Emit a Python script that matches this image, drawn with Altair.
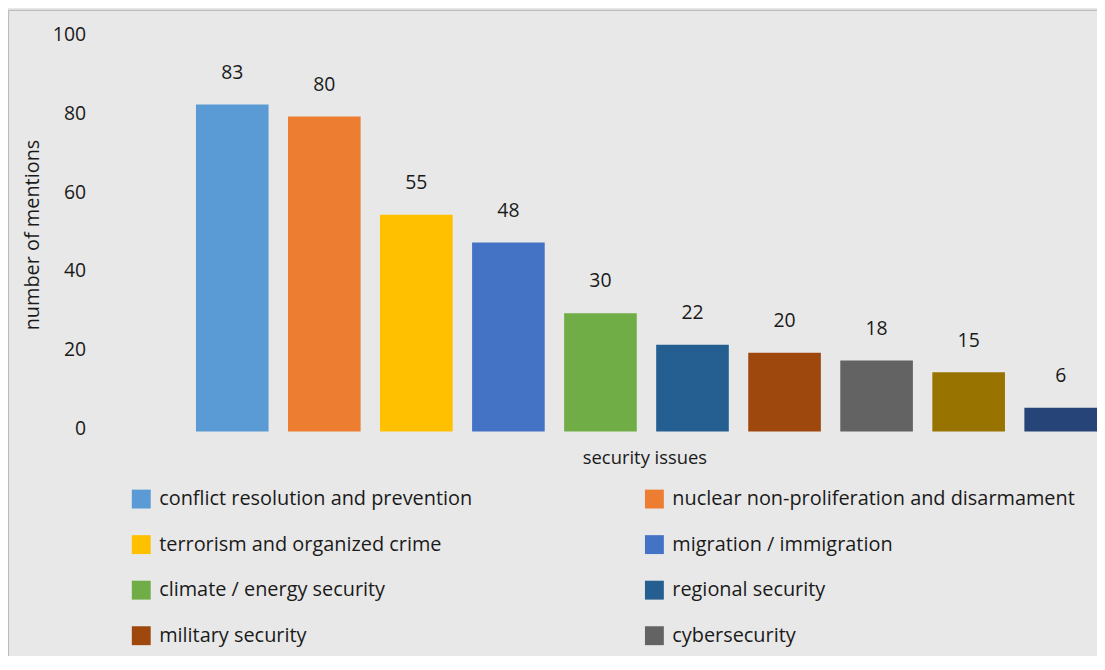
import altair as alt
import pandas as pd

issues = [
    "conflict resolution and prevention",
    "nuclear non-proliferation and disarmament",
    "terrorism and organized crime",
    "migration / immigration",
    "climate / energy security",
    "regional security",
    "military security",
    "cybersecurity",
    "economic security",
    "human security",
]
mentions = [83, 80, 55, 48, 30, 22, 20, 18, 15, 6]
colors = ["#5B9BD5", "#ED7D31", "#FFC000", "#4472C4", "#70AD47",
          "#255E91", "#9E480E", "#636363", "#997300", "#264478"]
y_ticks = [0, 20, 40, 60, 80, 100]
legend_shown = 8  # entries visible in the figure

# legend fills column by column: reorder so it reads row by row
order = [0, 2, 4, 6, 8, 1, 3, 5, 7, 9]
legend_domain = [issues[i] for i in order]
legend_range = [colors[i] for i in order]
legend_values = [issues[i] for i in order if i < legend_shown]

df = pd.DataFrame({"issue": issues, "mentions": mentions})

FONT = "Open Sans"
BG = "#e8e8e8"
TXT = "#1a1a1a"

x_enc = alt.X(
    "issue:N",
    sort=issues,
    scale=alt.Scale(domain=issues, paddingInner=0.211, paddingOuter=0, round=False),
    axis=alt.Axis(title="security issues", labels=False, ticks=False, domain=False,
                  titleFontSize=18.5, titleFontWeight="normal", titleFont=FONT,
                  titleColor=TXT, titlePadding=17, titleX=451, titleAlign="center"),
)
y_enc = alt.Y(
    "mentions:Q",
    scale=alt.Scale(domain=[0, 100]),
    axis=alt.Axis(values=y_ticks, grid=False, domain=False, ticks=False,
                  labelPadding=111, labelFontSize=19.5, labelFont=FONT, labelColor=TXT,
                  labelOffset=-3,
                  title="number of mentions", titleFontSize=20, titleFontWeight="normal",
                  titleFont=FONT, titleColor=TXT, titlePadding=10),
)

bars = alt.Chart(df).mark_bar().encode(
    x=x_enc,
    y=y_enc,
    color=alt.Color(
        "issue:N",
        scale=alt.Scale(domain=legend_domain, range=legend_range),
        legend=alt.Legend(
            title=None, orient="none", legendX=-65, legendY=454, columns=2,
            values=legend_values,
            symbolType="square", symbolSize=361, symbolStrokeWidth=0,
            symbolOpacity=1, labelFontSize=20, labelFont=FONT, labelColor=TXT,
            labelOffset=8, rowPadding=25.8, columnPadding=173, padding=0, labelLimit=600,
        ),
    ),
)

labels = alt.Chart(df).mark_text(
    dy=-32, baseline="middle", fontSize=19.5, font=FONT, color=TXT
).encode(x=alt.X("issue:N", sort=issues), y="mentions:Q", text="mentions:Q")

border_df = pd.DataFrame({"k": [0]})
border_top = alt.Chart(border_df).mark_rule(color="#bdbdbd", strokeWidth=1.2).encode(
    x=alt.value(-188.5), x2=alt.value(1000), y=alt.value(-27.5)
)
border_left = alt.Chart(border_df).mark_rule(color="#bdbdbd", strokeWidth=1.2).encode(
    x=alt.value(-188.5), y=alt.value(-27.5), y2=alt.value(700)
)

chart = alt.layer(bars, labels, border_top, border_left).properties(
    width=alt.Step(92.56), height=396,
    autosize=alt.AutoSizeParams(type="none"),
    padding={"left": 189, "top": 28, "right": 0, "bottom": 224},
    background=BG,
).configure_view(stroke=None)

chart.save("out.html", embed_options={"renderer": "svg", "actions": False})
